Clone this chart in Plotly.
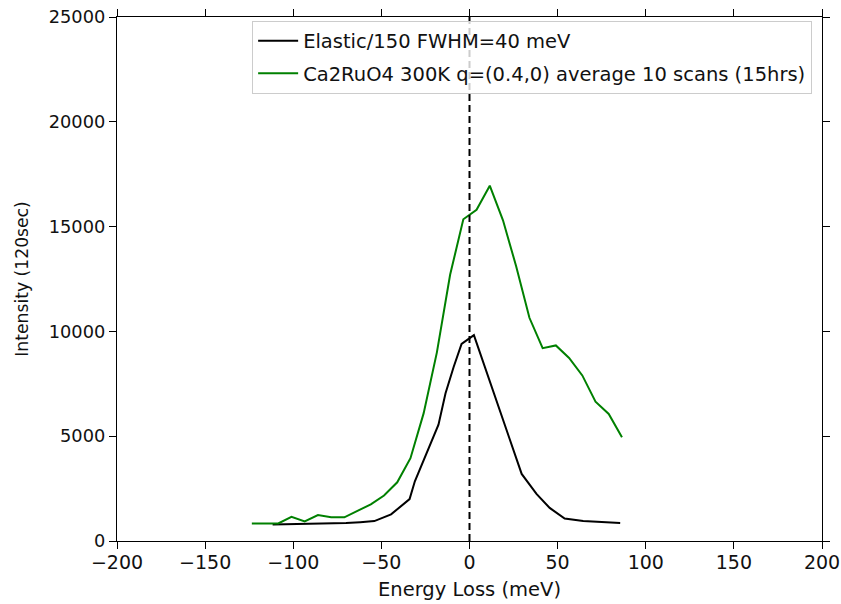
import plotly.graph_objects as go

# Data
green_x = [-123.5, -116, -108.5, -101, -93.5, -86, -78.5, -71, -63.5, -56, -48.5, -41,
           -33.5, -26, -18.5, -11, -3.5, 4, 11.5, 19, 26.5, 34, 41.5, 49, 56.5, 64,
           71.5, 79, 86.5]
green_y = [840, 840, 840, 1150, 930, 1240, 1130, 1130, 1440, 1750, 2170, 2800,
           3950, 6100, 9000, 12700, 15350, 15800, 16950, 15300, 13100, 10650, 9200,
           9330, 8730, 7900, 6650, 6060, 4950]

black_x = [-111.7, -100, -90, -80, -70, -62, -54, -44.5, -34, -31, -17.6, -13.6, -9,
           -4.5, 2.5, 29.6, 38, 45.5, 54, 64.5, 75, 85.5]
black_y = [790, 800, 810, 830, 860, 900, 950, 1270, 2000, 2850, 5550, 7050, 8300,
           9400, 9820, 3200, 2250, 1580, 1070, 950, 890, 860]

x_ticks = [-200, -150, -100, -50, 0, 50, 100, 150, 200]
y_ticks = [0, 5000, 10000, 15000, 20000, 25000]

label_black = "Elastic/150 FWHM=40 meV"
label_green = "Ca2RuO4 300K q=(0.4,0) average 10 scans (15hrs)"

FONT = "DejaVu Sans"
TXT = "#111"

fig = go.Figure()
fig.add_trace(go.Scatter(x=black_x, y=black_y, mode="lines", name=label_black,
                         line=dict(color="black", width=2), legendgroup="a"))
fig.add_trace(go.Scatter(x=green_x, y=green_y, mode="lines", name=label_green,
                         line=dict(color="green", width=2), legendgroup="b"))
fig.add_vline(x=0, line=dict(color="black", width=2, dash="7px,4px"))

axis_common = dict(showgrid=False, zeroline=False, showline=True, linecolor="black",
                   linewidth=1.3, ticks="outside", ticklen=7, tickwidth=1.3,
                   tickcolor="black", mirror="ticks", automargin=False)

fig.update_xaxes(range=[-200, 200], tickvals=x_ticks,
                 ticktext=[str(v).replace("-", "\u2212") for v in x_ticks],
                 tickfont=dict(family=FONT, size=19, color=TXT),
                 ticklabelstandoff=-3,
                 title=dict(text="Energy Loss (meV)", font=dict(family=FONT, size=19.5, color=TXT),
                            standoff=10),
                 **axis_common)
fig.update_yaxes(range=[0, 25000], tickvals=y_ticks, ticktext=[str(v) for v in y_ticks],
                 tickfont=dict(family=FONT, size=17.8, color=TXT),
                 title=dict(text="Intensity (120sec)", font=dict(family=FONT, size=17.2, color=TXT),
                            standoff=15),
                 **axis_common)

fig.update_layout(
    width=841, height=604,
    margin=dict(l=117, r=19, t=17, b=63),
    plot_bgcolor="white", paper_bgcolor="white",
    font=dict(family=FONT, size=18, color=TXT),
    legend=dict(x=0.986, y=0.993, xanchor="right", yanchor="top",
                bgcolor="rgba(255,255,255,0.8)", bordercolor="#cccccc", borderwidth=1,
                font=dict(family=FONT, size=19.5, color=TXT),
                traceorder="grouped", tracegroupgap=4, itemwidth=40),
)

fig.write_html("out.html")
